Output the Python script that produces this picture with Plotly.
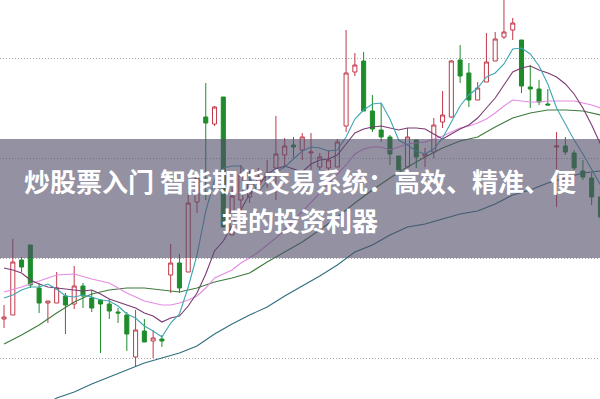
import plotly.graph_objects as go

# Candles (index 0..68)
idx = list(range(69))
opens = [26.95, 27.15, 29.90, 30.65, 28.50, 27.75, 27.75, 28.10, 27.70, 28.60,
         28.00, 27.90, 27.70, 27.30, 27.15, 25.05, 26.35, 25.85, 25.95, 29.15,
         29.75, 29.30, 32.80, 37.05, 36.70, 38.05, 31.15, 32.90, 33.05, 33.65,
         33.80, 34.50, 35.15, 35.65, 35.40, 35.25, 34.55, 34.50, 34.55, 36.60,
         39.30, 39.85, 37.35, 36.40, 36.05, 35.10, 34.55, 35.90, 35.10, 35.30,
         36.80, 37.05, 39.90, 39.25, 37.90, 38.80, 39.85, 41.05, 41.40, 40.90,
         38.55, 38.45, 37.70, 35.55, 35.60, 35.25, 34.35, 34.00, 33.05]
highs = [27.65, 30.95, 30.05, 30.65, 28.75, 27.85, 29.30, 28.25, 29.60, 28.75,
         28.40, 27.95, 27.95, 27.50, 27.30, 27.40, 26.95, 26.40, 26.15, 30.70,
         30.20, 33.25, 34.10, 38.75, 37.60, 38.05, 33.55, 34.65, 34.40, 34.50,
         34.90, 37.10, 36.00, 36.05, 36.25, 36.25, 35.25, 35.40, 35.95, 41.40,
         40.25, 40.30, 38.15, 37.75, 36.15, 35.10, 36.50, 35.90, 35.50, 37.00,
         38.35, 39.90, 40.65, 39.75, 38.80, 41.25, 41.30, 43.40, 42.00, 40.90,
         39.65, 38.90, 38.45, 36.30, 36.05, 35.40, 34.90, 34.25, 33.55]
lows = [26.50, 27.15, 29.30, 28.50, 27.25, 26.75, 27.75, 26.20, 27.45, 27.50,
        27.30, 25.25, 26.95, 26.75, 25.35, 24.55, 25.80, 25.00, 25.55, 28.25,
        28.25, 29.30, 32.25, 32.90, 36.60, 31.55, 31.15, 32.30, 32.75, 33.25,
        33.50, 32.90, 34.55, 35.00, 34.90, 34.25, 34.40, 34.30, 34.55, 36.30,
        39.10, 37.35, 36.30, 35.80, 34.65, 34.40, 34.55, 34.50, 34.55, 35.00,
        36.50, 37.00, 38.75, 37.55, 37.90, 38.80, 39.85, 40.95, 40.90, 38.25,
        37.50, 37.65, 37.65, 32.55, 35.15, 34.40, 33.90, 32.65, 31.75]
closes = [27.05, 29.80, 29.55, 28.65, 27.75, 27.85, 28.50, 27.65, 28.60, 28.10,
          27.50, 27.70, 27.35, 27.25, 26.20, 26.40, 25.80, 26.00, 25.85, 29.75,
          28.50, 32.75, 34.00, 36.75, 37.55, 31.55, 33.10, 34.15, 33.75, 34.05,
          34.25, 35.20, 35.60, 35.55, 36.05, 35.30, 35.05, 34.90, 35.80, 39.25,
          39.65, 37.35, 36.45, 36.05, 35.20, 34.40, 36.05, 35.05, 35.20, 36.65,
          37.15, 39.85, 39.10, 37.90, 38.50, 39.80, 40.95, 41.30, 41.75, 38.60,
          38.45, 37.80, 37.65, 35.60, 35.30, 34.50, 34.05, 33.05, 32.05]

# Moving averages
ma5 = [28.00, 28.15, 28.40, 28.55, 28.55, 28.70, 28.45, 28.10, 28.05, 28.15,
       28.05, 27.90, 27.85, 27.60, 27.20, 27.00, 26.60, 26.35, 26.05, 26.75,
       27.20, 28.55, 30.15, 32.35, 33.90, 34.50, 34.60, 34.60, 34.00, 33.30,
       33.85, 34.30, 34.55, 34.95, 35.35, 35.55, 35.50, 35.35, 35.40, 36.05,
       36.95, 37.40, 37.70, 37.75, 36.95, 35.90, 35.65, 35.35, 35.20, 35.45,
       36.00, 36.80, 37.60, 38.15, 38.50, 39.05, 39.25, 39.70, 40.45, 40.50,
       40.20, 39.60, 38.70, 37.50, 36.70, 35.90, 35.20, 34.40, 33.65]
ma10 = [29.50, 29.40, 29.25, 28.90, 28.70, 28.55, 28.50, 28.45, 28.40, 28.35,
        28.40, 28.20, 27.95, 27.80, 27.65, 27.50, 27.25, 27.10, 26.80, 27.00,
        27.10, 27.60, 28.25, 29.20, 30.35, 30.85, 31.60, 32.40, 33.20, 33.60,
        34.20, 34.45, 34.60, 34.45, 34.30, 34.70, 34.90, 34.95, 35.15, 35.70,
        36.25, 36.45, 36.55, 36.60, 36.50, 36.40, 36.50, 36.50, 36.45, 36.20,
        35.95, 36.20, 36.45, 36.65, 37.00, 37.50, 38.00, 38.65, 39.30, 39.50,
        39.60, 39.40, 39.25, 39.05, 38.70, 38.20, 37.50, 36.65, 35.70]
ma20_x = [0, 2, 4, 6, 8, 10, 12, 14, 16, 18, 19, 20, 21, 22, 23, 24, 25, 26, 27, 28,
          29, 30, 31, 32, 33, 34, 35, 36, 37, 38, 39, 40, 41, 42, 43, 44, 45, 46, 47, 48,
          49, 50, 51, 52, 53, 54, 55, 56, 57, 58, 59, 60, 61, 62, 63, 64, 65, 66, 67, 68]
ma20 = [28.30, 28.55, 28.85, 29.15, 29.20, 28.95, 28.75, 28.25, 27.85, 27.65,
        27.65, 27.75, 27.90, 28.10, 28.50, 29.00, 29.20, 29.40, 29.75, 30.00,
        30.30, 30.65, 31.00, 31.40, 31.85, 32.35, 32.75, 33.25, 33.70, 34.20,
        34.65, 35.20, 35.45, 35.55, 35.55, 35.40, 35.55, 35.70, 35.75, 35.80,
        35.95, 36.10, 36.30, 36.50, 36.60, 36.75, 36.95, 37.25, 37.60, 37.90,
        37.85, 37.80, 37.80, 37.85, 37.85, 37.85, 37.85, 37.75, 37.65, 37.50]
ma30_x = [0, 2, 4, 6, 8, 10, 12, 14, 16, 18, 20, 22, 24, 26, 28, 30, 32, 34,
          36, 38, 40, 42, 44, 46, 48, 50, 52, 54, 56, 58, 60, 62, 64, 66, 68]
ma30 = [25.70, 26.15, 26.65, 27.25, 27.80, 28.20, 28.40, 28.50, 28.50, 28.40,
        28.30, 28.50, 28.80, 29.00, 29.25, 29.80, 30.30, 30.80, 31.40, 32.05,
        32.75, 33.40, 34.00, 34.55, 35.05, 35.50, 35.85, 36.05, 36.55, 37.00,
        37.25, 37.40, 37.40, 37.35, 37.15]
ma60_x = ma30_x
ma60 = [21.70, 22.10, 22.50, 23.00, 23.30, 23.70, 24.05, 24.40, 24.75, 25.00,
        25.25, 25.60, 26.20, 26.70, 27.15, 27.55, 28.10, 28.60, 29.10, 29.65,
        30.30, 30.65, 31.15, 31.55, 31.70, 31.95, 32.20, 32.35, 32.70, 33.15,
        33.40, 33.75, 34.00, 34.25, 34.35]

grid_vals = [25, 30, 35, 40]
title_line1 = "炒股票入门 智能期货交易系统：高效、精准、便"
title_line2 = "捷的投资利器"

RED = "#c0394b"
GREEN = "#1e8c2b"

fig = go.Figure()

def ma_trace(x, y, color):
    return go.Scatter(x=x, y=y, mode="lines", line=dict(color=color, width=1.1),
                      hoverinfo="skip", showlegend=False)

fig.add_trace(ma_trace(ma60_x, ma60, "#2f6d7d"))
fig.add_trace(ma_trace(ma30_x, ma30, "#3c7b3c"))
fig.add_trace(ma_trace(ma20_x, ma20, "#e48be4"))
fig.add_trace(ma_trace(idx, ma10, "#7a3b73"))
fig.add_trace(ma_trace(idx, ma5, "#3fa6b4"))

fig.add_trace(go.Candlestick(
    x=idx, open=opens, high=highs, low=lows, close=closes,
    increasing=dict(line=dict(color=RED, width=1), fillcolor="white"),
    decreasing=dict(line=dict(color=GREEN, width=1), fillcolor=GREEN),
    whiskerwidth=0, showlegend=False, hoverinfo="skip",
))

fig.update_layout(
    width=600, height=399,
    margin=dict(l=0, r=0, t=0, b=0),
    paper_bgcolor="white", plot_bgcolor="white",
    boxgap=0.34,
    showlegend=False,
    xaxis=dict(range=[-0.46, 67.95], showgrid=False, zeroline=False,
               showticklabels=False, rangeslider=dict(visible=False),
               showline=False, ticks=""),
    yaxis=dict(range=[22.95, 42.9], tickvals=grid_vals, showticklabels=False,
               showgrid=True, gridcolor="#a8a8a8", gridwidth=1,
               griddash="1px,2px", zeroline=False, showline=False, ticks=""),
    shapes=[dict(type="rect", xref="paper", yref="paper",
                 x0=0, x1=1, y0=1 - 258 / 399, y1=1 - 139 / 399,
                 fillcolor="rgba(80,78,105,0.62)", line=dict(width=0),
                 layer="above")],
    annotations=[
        dict(text=title_line1, xref="paper", yref="paper", x=0.5, y=1 - 180 / 399,
             xanchor="center", yanchor="middle", showarrow=False,
             font=dict(family="Noto Sans CJK SC", size=26, color="white", weight="bold")),
        dict(text=title_line2, xref="paper", yref="paper", x=0.5, y=1 - 219 / 399,
             xanchor="center", yanchor="middle", showarrow=False,
             font=dict(family="Noto Sans CJK SC", size=26, color="white", weight="bold")),
    ],
)

fig.write_html("out.html")
